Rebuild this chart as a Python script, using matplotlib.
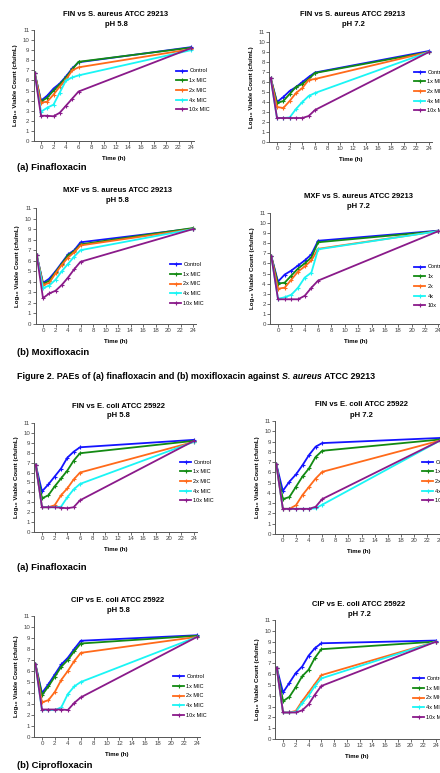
"""
Time-kill / PAE curves for finafloxacin, moxifloxacin and ciprofloxacin
(S. aureus ATCC 29213 and E. coli ATCC 25922, pH 5.8 and pH 7.2).
"""

import matplotlib
matplotlib.use("Agg")
import matplotlib.pyplot as plt

# ==========================================
# --- DATA ---
# ==========================================

TIME = [-1, 0, 1, 2, 3, 4, 5, 6, 24]
SERIES = ["Control", "1x MIC", "2x MIC", "4x MIC", "10x MIC"]
SERIES_SHORT = ["Control", "1x", "2x", "4x", "10x"]

# rows: Control, 1x, 2x, 4x, 10x  (log10 cfu/mL)
FIN_SA_58 = [
    [6.7, 4.0, 4.5, 5.2, 5.7, 6.4, 7.2, 7.8, 9.3],
    [6.7, 3.9, 4.3, 5.0, 5.6, 6.3, 7.1, 7.85, 9.25],
    [6.7, 3.8, 3.9, 4.6, 5.4, 6.1, 7.0, 7.3, 9.1],
    [6.7, 2.9, 3.3, 3.6, 4.8, 6.0, 6.3, 6.5, 9.0],
    [6.7, 2.5, 2.5, 2.45, 2.8, 3.5, 4.2, 4.9, 9.2],
]
FIN_SA_72 = [
    [6.4, 4.0, 4.5, 5.1, 5.5, 6.0, 6.5, 6.95, 9.1],
    [6.4, 3.9, 4.1, 4.8, 5.5, 5.8, 6.3, 6.9, 9.0],
    [6.4, 3.5, 3.4, 4.1, 4.9, 5.4, 6.2, 6.3, 9.0],
    [6.4, 2.4, 2.4, 2.45, 3.3, 4.0, 4.6, 4.9, 9.0],
    [6.4, 2.4, 2.4, 2.4, 2.4, 2.4, 2.6, 3.2, 9.0],
]
MXF_SA_58 = [
    [6.5, 3.9, 4.3, 5.0, 5.8, 6.6, 7.0, 7.75, 9.05],
    [6.5, 3.8, 4.1, 4.9, 5.7, 6.5, 6.9, 7.55, 9.1],
    [6.5, 3.7, 3.9, 4.8, 5.6, 6.3, 6.8, 7.45, 9.0],
    [6.5, 3.4, 3.65, 4.2, 5.0, 5.7, 6.4, 7.0, 9.0],
    [6.5, 2.45, 2.9, 3.15, 3.7, 4.4, 5.2, 5.9, 9.0],
]
MXF_SA_72 = [
    [6.7, 4.2, 4.9, 5.3, 5.8, 6.3, 6.9, 8.25, 9.25],
    [6.7, 4.0, 4.1, 4.8, 5.5, 6.0, 6.6, 8.1, 9.2],
    [6.7, 3.5, 3.6, 4.4, 5.2, 5.7, 6.3, 7.45, 9.2],
    [6.7, 2.5, 2.65, 2.9, 3.6, 4.6, 5.1, 7.4, 9.2],
    [6.7, 2.45, 2.45, 2.45, 2.45, 2.8, 3.6, 4.3, 9.2],
]
FIN_EC_58 = [
    [6.8, 4.1, 4.8, 5.6, 6.4, 7.5, 8.1, 8.55, 9.3],
    [6.8, 3.4, 3.7, 4.6, 5.4, 6.2, 7.2, 7.95, 9.2],
    [6.8, 2.5, 2.5, 2.7, 3.7, 4.4, 5.3, 6.0, 9.1],
    [6.8, 2.5, 2.5, 2.5, 2.55, 3.5, 4.3, 4.85, 9.1],
    [6.8, 2.5, 2.5, 2.5, 2.45, 2.4, 2.5, 3.2, 9.2],
]
FIN_EC_72 = [
    [6.8, 4.2, 5.1, 5.8, 6.7, 7.7, 8.5, 8.85, 9.35],
    [6.8, 3.4, 3.6, 4.6, 5.6, 6.4, 7.5, 8.1, 9.2],
    [6.8, 2.45, 2.45, 2.8, 3.8, 4.6, 5.4, 6.05, 9.1],
    [6.8, 2.45, 2.45, 2.45, 2.45, 2.45, 2.5, 2.85, 9.1],
    [6.8, 2.45, 2.45, 2.45, 2.45, 2.45, 2.65, 3.4, 9.1],
]
CIP_EC_58 = [
    [6.6, 4.0, 4.8, 5.7, 6.6, 7.2, 8.0, 8.75, 9.25],
    [6.6, 3.8, 4.6, 5.5, 6.4, 7.0, 7.8, 8.5, 9.2],
    [6.6, 3.15, 3.35, 4.1, 5.2, 6.0, 6.9, 7.65, 9.1],
    [6.6, 2.45, 2.45, 2.45, 2.7, 3.9, 4.6, 5.0, 9.1],
    [6.6, 2.5, 2.5, 2.5, 2.5, 2.45, 3.1, 3.6, 9.1],
]
CIP_EC_72 = [
    [6.6, 4.3, 5.2, 6.1, 6.7, 7.7, 8.4, 8.85, 9.1],
    [6.6, 3.5, 3.9, 4.8, 5.8, 6.4, 7.5, 8.3, 9.0],
    [6.6, 2.45, 2.45, 2.6, 3.5, 4.3, 5.1, 5.9, 9.0],
    [6.6, 2.45, 2.45, 2.5, 3.3, 4.0, 4.9, 5.6, 9.0],
    [6.6, 2.45, 2.45, 2.45, 2.65, 3.2, 4.1, 4.9, 9.0],
]

TITLES = [
    "FIN vs S. aureus ATCC 29213", "FIN vs S. aureus ATCC 29213",
    "MXF vs S. aureus ATCC 29213", "MXF vs S. aureus ATCC 29213",
    "FIN vs E. coli ATCC 25922", "FIN vs E. coli ATCC 25922",
    "CIP vs E. coli ATCC 25922", "CIP vs E. coli ATCC 25922",
]
PH_LABELS = ["pH 5.8", "pH 7.2"] * 4

# ==========================================
# --- STYLE / LAYOUT ---
# ==========================================

W, H = 440, 773
COLORS = ["#1414ff", "#138a13", "#ff6a1a", "#1af5f5", "#8a1a8a"]
FONT = ["Liberation Sans", "DejaVu Sans"]
plt.rcParams["font.family"] = FONT

# axes boxes in pixels: left, right, top (y=11), bottom (y=0)
BOXES = [
    (33.5, 193.5, 30, 141), (269.4, 431.5, 32, 142),
    (35.5, 195.5, 208, 324), (270, 441, 213, 324),
    (34.4, 196.5, 423, 532), (275, 442.8, 421, 534),
    (34.2, 199.6, 616, 737), (275.4, 438.6, 620, 739),
]
# title centre x, first line y
TITLE_POS = [(116, 15), (353, 15), (117, 191), (358, 196),
             (118, 406), (361, 405), (118, 601), (359, 604)]
# legend top-left (pixels)
LEGEND_POS = [(176, 68.5), (414, 69.5), (170, 262), (414, 264.5),
              (180, 459.5), (422, 459.5), (173, 674), (413, 676)]


def px(x, y):
    return x / W, 1 - y / H


def draw_panel(fig, i, data, labels):
    l, r, t, b = BOXES[i]
    ax = fig.add_axes([l / W, 1 - b / H, (r - l) / W, (b - t) / H])
    for row, lab, col in zip(data, labels, COLORS):
        ax.plot(TIME, row, color=col, lw=1.3, marker="+", ms=2.8, mew=0.8, label=lab)

    ax.set_xlim(-1.2, 24.4)
    ax.set_ylim(0, 11)
    ax.set_xticks(range(0, 25, 2))
    ax.set_yticks(range(0, 12))
    for s in ["top", "right"]:
        ax.spines[s].set_visible(False)
    for s in ["left", "bottom"]:
        ax.spines[s].set_color("#555555")
        ax.spines[s].set_linewidth(0.7)
    ax.tick_params(length=2, width=0.6, color="#555555", labelsize=4.4,
                   labelcolor="#444444", pad=1)
    ax.set_xlabel("Time (h)", fontsize=4.4, fontweight="bold", labelpad=4)
    ax.set_ylabel("Log₁₀ Viable Count (cfu/mL)", fontsize=4.4,
                  fontweight="bold", labelpad=3)

    cx, ty = TITLE_POS[i]
    fig.text(*px(cx, ty), TITLES[i], ha="center", va="center",
             fontsize=5.5, fontweight="bold")
    fig.text(*px(cx, ty + 10), PH_LABELS[i], ha="center", va="center",
             fontsize=5.5, fontweight="bold")

    lx, ly = LEGEND_POS[i]
    ax.legend(loc="upper left", bbox_to_anchor=px(lx, ly),
              bbox_transform=fig.transFigure, frameon=False, fontsize=4,
              handlelength=2.0, handletextpad=0.4, labelspacing=0.85,
              borderpad=0, borderaxespad=0)
    return ax


def main():
    fig = plt.figure(figsize=(W / 100, H / 100), dpi=100)

    panels = [FIN_SA_58, FIN_SA_72, MXF_SA_58, MXF_SA_72,
              FIN_EC_58, FIN_EC_72, CIP_EC_58, CIP_EC_72]
    for i, data in enumerate(panels):
        labels = SERIES_SHORT if i == 3 else SERIES
        draw_panel(fig, i, data, labels)

    # sub-figure labels
    for (x, y), txt in zip([(17, 168), (17, 352), (17, 568), (17, 766)],
                           ["(a) Finafloxacin", "(b) Moxifloxacin",
                            "(a) Finafloxacin", "(b) Ciprofloxacin"]):
        fig.text(*px(x, y), txt, ha="left", va="center", fontsize=6.8,
                 fontweight="bold")

    # caption with italic species name
    renderer = fig.canvas.get_renderer()
    x0, y0 = px(17, 376)
    parts = [("Figure 2. PAEs of (a) finafloxacin and (b) moxifloxacin against ", "normal"),
             ("S. aureus", "italic"),
             (" ATCC 29213", "normal")]
    for txt, style in parts:
        t = fig.text(x0, y0, txt, ha="left", va="center", fontsize=6.4,
                     fontweight="bold", fontstyle=style)
        bb = t.get_window_extent(renderer=renderer)
        x0 = bb.x1 / W

    fig.savefig("out.png", dpi=100)
    plt.close(fig)


if __name__ == "__main__":
    main()
